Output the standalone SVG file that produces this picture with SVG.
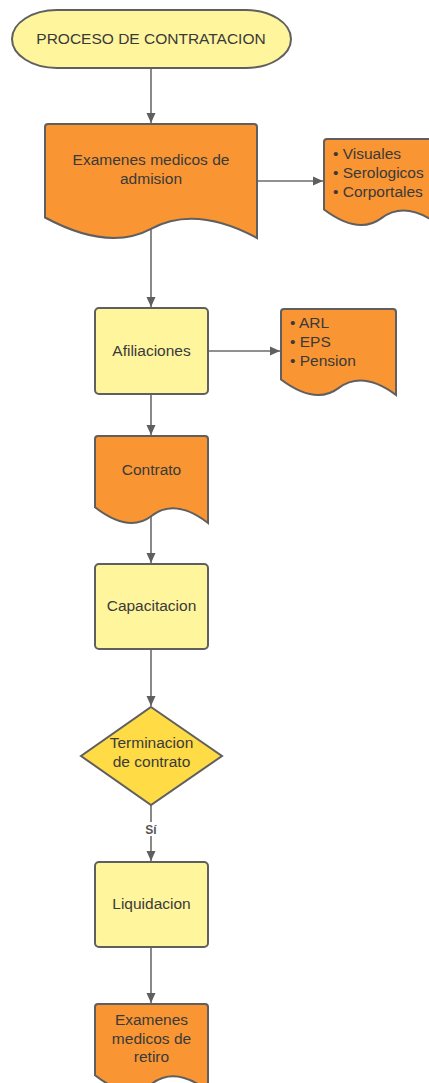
<svg xmlns="http://www.w3.org/2000/svg" width="429" height="1083" viewBox="0 0 429 1083">
<defs>
<style>
.t{font-family:"Liberation Sans",Arial,sans-serif;font-size:15.5px;fill:#3a3a3a}
.c{text-anchor:middle}
.org{fill:#F99533;stroke:#5f5f5f;stroke-width:2}
.yel{fill:#FFF59D;stroke:#5f5f5f;stroke-width:2}
.dia{fill:#FFDB45;stroke:#5f5f5f;stroke-width:2}
.ln{stroke:#6b6b6b;stroke-width:1.6;fill:none;marker-end:url(#ah)}
.lbl{font-family:"Liberation Sans",Arial,sans-serif;font-size:12px;font-weight:bold;fill:#555;text-anchor:middle}
</style>
<marker id="ah" markerUnits="userSpaceOnUse" markerWidth="10" markerHeight="10" viewBox="0 0 10 10" refX="10" refY="5" orient="auto">
<path d="M0,0.5 L10,5 L0,9.5 Z" fill="#5f5f5f"/>
</marker>
</defs>
<rect width="429" height="1083" fill="#ffffff"/>
<g id="connectors">
<line class="ln" x1="151" y1="68" x2="151" y2="123"/>
<line class="ln" x1="257" y1="181" x2="323" y2="181"/>
<line class="ln" x1="151" y1="229" x2="151" y2="307"/>
<line class="ln" x1="209" y1="351" x2="280" y2="351"/>
<line class="ln" x1="151" y1="394" x2="151" y2="435"/>
<line class="ln" x1="151" y1="516" x2="151" y2="563"/>
<line class="ln" x1="151" y1="649" x2="151" y2="706"/>
<line class="ln" x1="151" y1="805" x2="151" y2="861"/>
<line class="ln" x1="151" y1="947" x2="151" y2="1003"/>
<rect x="142" y="822" width="18" height="14" fill="#ffffff"/>
<text class="lbl" x="151" y="834">Sí</text>
</g>
<g id="start">
<rect class="yel" x="12" y="10" width="279" height="58" rx="45" ry="29"/>
<text class="t c" x="151" y="44">PROCESO DE CONTRATACION</text>
</g>
<g id="examenes-admision">
<path class="org" d="M45,127 Q45,124 48,124 H254 Q257,124 257,127 V238 C221,218.6 184.9,210.6 151,228.9 C117.1,247.1 78.9,235.7 45,217.5 Z"/>
<text class="t c" x="151" y="165">Examenes medicos de</text>
<text class="t c" x="151" y="184">admision</text>
</g>
<g id="tipos-examenes">
<path class="org" d="M324,142 Q324,139 327,139 H436 Q439,139 439,142 V225 C419.5,210.4 399.9,204.4 381.5,218.1 C363.1,231.9 342.4,223.3 324,209.5 Z"/>
<text class="t" x="333" y="159">• Visuales</text>
<text class="t" x="333" y="178">• Serologicos</text>
<text class="t" x="333" y="197">• Corportales</text>
</g>
<g id="afiliaciones">
<rect class="yel" x="95" y="308" width="113" height="86" rx="4"/>
<text class="t c" x="151.5" y="356">Afiliaciones</text>
</g>
<g id="tipos-afiliacion">
<path class="org" d="M281,312 Q281,309 284,309 H393 Q396,309 396,312 V395 C376.5,380.4 356.9,374.4 338.5,388.1 C320.1,401.9 299.4,393.3 281,379.5 Z"/>
<text class="t" x="290" y="328">• ARL</text>
<text class="t" x="290" y="347">• EPS</text>
<text class="t" x="290" y="366">• Pension</text>
</g>
<g id="contrato">
<path class="org" d="M95,439 Q95,436 98,436 H205 Q208,436 208,439 V523 C188.8,508.2 169.6,502.1 151.5,516 C133.4,530 113.1,521.3 95,507.3 Z"/>
<text class="t c" x="151.5" y="475">Contrato</text>
</g>
<g id="capacitacion">
<rect class="yel" x="95" y="564" width="113" height="85" rx="4"/>
<text class="t c" x="151.5" y="611">Capacitacion</text>
</g>
<g id="terminacion">
<polygon class="dia" points="151,707 222,756 151,805 81,756"/>
<text class="t c" x="151.5" y="748">Terminacion</text>
<text class="t c" x="151.5" y="767">de contrato</text>
</g>
<g id="liquidacion">
<rect class="yel" x="95" y="862" width="113" height="85" rx="4"/>
<text class="t c" x="151.5" y="909">Liquidacion</text>
</g>
<g id="examenes-retiro">
<path class="org" d="M95,1007 Q95,1004 98,1004 H205 Q208,1004 208,1007 V1091 C188.8,1076.2 169.6,1070.1 151.5,1084 C133.4,1098 113.1,1089.3 95,1075.3 Z"/>
<text class="t c" x="151.5" y="1025">Examenes</text>
<text class="t c" x="151.5" y="1044">medicos de</text>
<text class="t c" x="151.5" y="1062">retiro</text>
</g>
</svg>
